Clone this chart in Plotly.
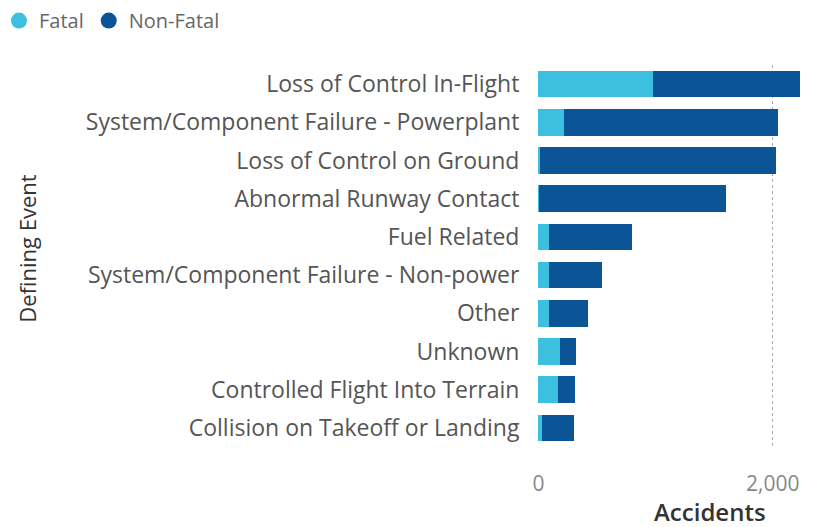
import plotly.graph_objects as go

categories = [
    "Loss of Control In-Flight",
    "System/Component Failure - Powerplant",
    "Loss of Control on Ground",
    "Abnormal Runway Contact",
    "Fuel Related",
    "System/Component Failure - Non-power",
    "Other",
    "Unknown",
    "Controlled Flight Into Terrain",
    "Collision on Takeoff or Landing",
]
fatal = [980, 215, 12, 8, 94, 90, 88, 181, 167, 26]
totals = [2230, 2040, 2030, 1600, 797, 542, 425, 323, 315, 306]
non_fatal = [t - f for t, f in zip(totals, fatal)]
x_ticks = [0, 2000]
x_tick_labels = ["0", "2,000"]

FATAL_C = "#3DBFE0"
NONFATAL_C = "#0B5597"
FONT = "Open Sans"

W, H = 813, 519
ML, MR, MT, MB = 530, 6, 57, 79.5
PW = W - ML - MR
PH = H - MT - MB

fig = go.Figure()
fig.add_trace(go.Bar(y=categories, x=fatal, name="Fatal", orientation="h",
                     marker=dict(color=FATAL_C, line=dict(width=0)), showlegend=False))
fig.add_trace(go.Bar(y=categories, x=non_fatal, name="Non-Fatal", orientation="h",
                     marker=dict(color=NONFATAL_C, line=dict(width=0)), showlegend=False))
# legend entries with circular symbols
for nm, col in [("Fatal", FATAL_C), ("Non-Fatal", NONFATAL_C)]:
    fig.add_trace(go.Scatter(x=[None], y=[None], mode="markers", name=nm,
                             marker=dict(color=col, size=17, symbol="circle")))

fig.update_layout(
    width=W, height=H,
    barmode="stack", bargap=0.3,
    plot_bgcolor="white", paper_bgcolor="white",
    font=dict(family=FONT, color="#555"),
    margin=dict(l=ML, r=MR, t=MT, b=MB, autoexpand=False),
    showlegend=True,
    legend=dict(orientation="h", xref="paper", yref="paper",
                x=(-9 - ML) / PW, y=1 + (MT + 7) / PH, xanchor="left", yanchor="top",
                font=dict(size=20, color="#666"), itemwidth=30,
                traceorder="normal", tracegroupgap=0,
                bgcolor="rgba(0,0,0,0)"),
    xaxis=dict(range=[-4, 2360], tickvals=x_ticks, ticktext=x_tick_labels,
               showgrid=True, gridcolor="#aaaaaa", griddash="dot", gridwidth=1,
               zeroline=False, showline=False,
               tickfont=dict(size=21, color="#888"),
               ticks="outside", ticklen=18, tickcolor="rgba(0,0,0,0)"),
    yaxis=dict(categoryorder="array", categoryarray=categories[::-1],
               showgrid=False, zeroline=False, showline=False,
               tickfont=dict(size=23, color="#555"),
               ticks="outside", ticklen=13, tickcolor="rgba(0,0,0,0)"),
)

fig.add_annotation(text="Accidents", xref="paper", yref="paper",
                   x=(702 - ML) / PW, y=-(504 - (MT + PH)) / PH,
                   xanchor="center", yanchor="middle", showarrow=False,
                   font=dict(size=24, color="#333", family=FONT, weight=600))
fig.add_annotation(text="Defining Event", xref="paper", yref="paper",
                   x=(19 - ML) / PW, y=1 - (241 - MT) / PH,
                   xanchor="center", yanchor="middle", showarrow=False, textangle=-90,
                   font=dict(size=22, color="#333", family=FONT))

fig.write_html("out.html")
